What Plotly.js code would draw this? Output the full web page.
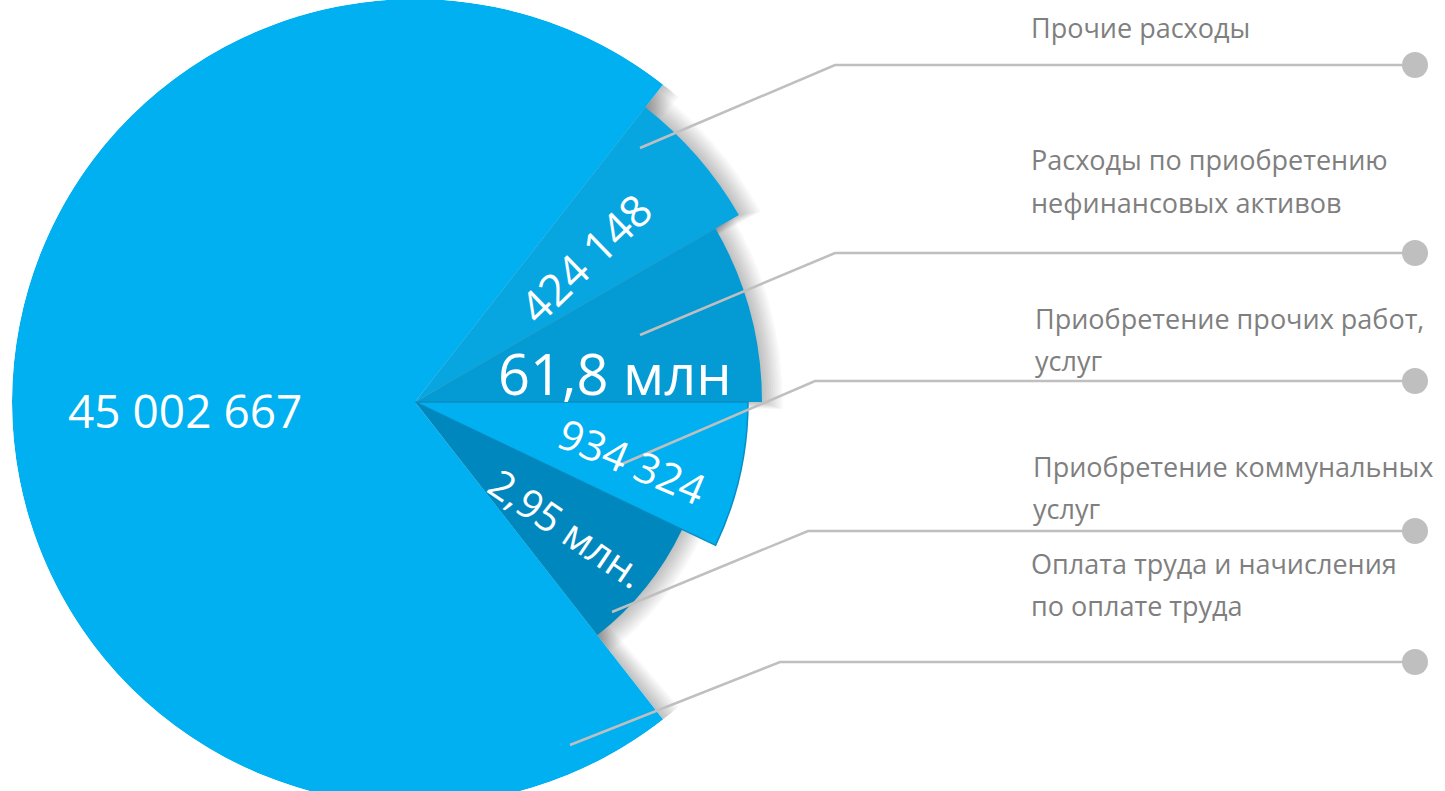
<!DOCTYPE html>
<html>
<head>
<meta charset="utf-8">
<script src="https://cdn.plot.ly/plotly-3.0.1.min.js"></script>
<style>
  html, body { margin:0; padding:0; width:1445px; height:791px; overflow:hidden; background:#ffffff; }
  #chart { position:absolute; left:0; top:-1px; width:1445px; height:806px; }
</style>
</head>
<body>
<div id="chart"></div>
<script>
// ---------------- data ----------------
const categories = [
  "Прочие расходы",
  "Расходы по приобретению нефинансовых активов",
  "Приобретение прочих работ, услуг",
  "Приобретение коммунальных услуг",
  "Оплата труда и начисления по оплате труда"
];
const categoryLines = [
  ["Прочие расходы"],
  ["Расходы по приобретению", "нефинансовых активов"],
  ["Приобретение прочих работ,", "услуг"],
  ["Приобретение коммунальных", "услуг"],
  ["Оплата труда и начисления", "по оплате труда"]
];
const valueLabels = ["424 148", "61,8 млн", "934 324", "2,95 млн.", "45 002 667"];
const sliceSpanDeg = [22, 30, 25.5, 26.5, 256];     // angular share of each slice
const sliceDepth   = [374, 347, 333, 296, 403];    // radial extent of each slice
const sliceColors  = ["#07A6E1", "#049AD3", "#00B0F0", "#0088BE", "#00B0F0"];

// ---------------- layout helpers ----------------
const W = 1445, H = 806, TOP = -1;
const px = x => x / W;
const py = y => 1 - (y - TOP) / H;
const CX = 415, R = 403;
const startAngle = 52;

// slice centres (clockwise from startAngle)
const thetaCenters = [];
let a = startAngle;
sliceSpanDeg.forEach(s => { thetaCenters.push(a - s / 2); a -= s; });

const traces = [];
// soft shadows (drawn first, beneath slices)
const shadowIdx = [0, 1, 3];
const NS = 9;
for (let k = NS; k >= 1; k--) {
  traces.push({
    type: 'barpolar',
    r: shadowIdx.map(i => sliceDepth[i] + 2.3 * k),
    theta: shadowIdx.map(i => thetaCenters[i]),
    width: shadowIdx.map(i => sliceSpanDeg[i] + 0.25 * k),
    marker: { color: 'rgba(0,0,0,0.028)', line: { width: 0 } },
    hoverinfo: 'skip', showlegend: false
  });
  // shadow cast by the big slice's cut edges
  traces.push({
    type: 'barpolar',
    base: [sliceDepth[0] - 5, sliceDepth[3] - 5],
    r: [R - sliceDepth[0] + 5 + 1.4 * k, R - sliceDepth[3] + 5 + 1.4 * k],
    theta: [startAngle - 0.16 * k, startAngle - 360 + sliceSpanDeg[4] + 0.16 * k],
    width: [0.32 * k, 0.32 * k],
    marker: { color: 'rgba(0,0,0,0.028)', line: { width: 0 } },
    hoverinfo: 'skip', showlegend: false
  });
}
traces.push({
  type: 'barpolar',
  r: sliceDepth,
  theta: thetaCenters,
  width: sliceSpanDeg,
  text: categories,
  marker: {
    color: sliceColors,
    line: { color: ['rgba(0,0,0,0)', 'rgba(0,0,0,0)', '#0B8CC2', 'rgba(0,0,0,0)', 'rgba(0,0,0,0)'],
            width: [0, 0, 1.5, 0, 0] }
  },
  hoverinfo: 'text', showlegend: false
});

// ---------------- annotations ----------------
const annotations = [];
const valuePos = [[585, 258], [615, 373], [632, 460], [567, 527], [185, 410]];
const valueAngle = [-44, 0, 23, 34, 0];
const valueSize = [44, 56, 42, 40, 46];
valueLabels.forEach((t, i) => {
  annotations.push({
    xref: 'paper', yref: 'paper', x: px(valuePos[i][0]), y: py(valuePos[i][1]),
    text: t, showarrow: false, textangle: valueAngle[i],
    xanchor: 'center', yanchor: 'middle',
    font: { family: 'Open Sans, sans-serif', size: valueSize[i], color: '#ffffff' }
  });
});
const labelTop = [28, 160, 318, 466, 563];
const labelX = [1029, 1029, 1033, 1031, 1029];
categoryLines.forEach((lines, i) => {
  lines.forEach((ln, j) => {
    annotations.push({
      xref: 'paper', yref: 'paper', x: px(labelX[i]), y: py(labelTop[i] + 42 * j),
      text: ln, showarrow: false, xanchor: 'left', yanchor: 'middle',
      font: { family: 'Open Sans, sans-serif', size: 27, color: '#7F7F7F' }
    });
  });
});

// ---------------- leader lines ----------------
const shapes = [];
const leaderStart = [[640, 148], [640, 335], [615, 467], [612, 612], [570, 745]];
const leaderElbow = [[835, 65], [835, 253], [815, 381], [808, 531], [780, 662]];
const leaderEndX = 1415;
leaderStart.forEach((s, i) => {
  const e = leaderElbow[i];
  shapes.push({
    type: 'path', xref: 'paper', yref: 'paper',
    path: `M ${px(s[0])},${py(s[1])} L ${px(e[0])},${py(e[1])} L ${px(leaderEndX)},${py(e[1])}`,
    line: { color: '#BFBFBF', width: 2.5 }
  });
  shapes.push({
    type: 'circle', xref: 'paper', yref: 'paper',
    x0: px(leaderEndX - 13), x1: px(leaderEndX + 13),
    y0: py(e[1] + 13), y1: py(e[1] - 13),
    fillcolor: '#BFBFBF', line: { width: 0 }
  });
});

const layout = {
  width: W, height: H,
  margin: { l: 0, r: 0, t: 0, b: 0 },
  paper_bgcolor: '#ffffff',
  showlegend: false,
  polar: {
    domain: { x: [px(CX - R), px(CX + R)], y: [0, 1] },
    bgcolor: 'rgba(0,0,0,0)',
    barmode: 'overlay',
    radialaxis: { range: [0, R], visible: false, showgrid: false },
    angularaxis: { visible: false, showgrid: false, rotation: 0, direction: 'counterclockwise', thetaunit: 'degrees' }
  },
  annotations: annotations,
  shapes: shapes
};

Plotly.newPlot('chart', traces, layout, { displayModeBar: false, staticPlot: true });
</script>
</body>
</html>
